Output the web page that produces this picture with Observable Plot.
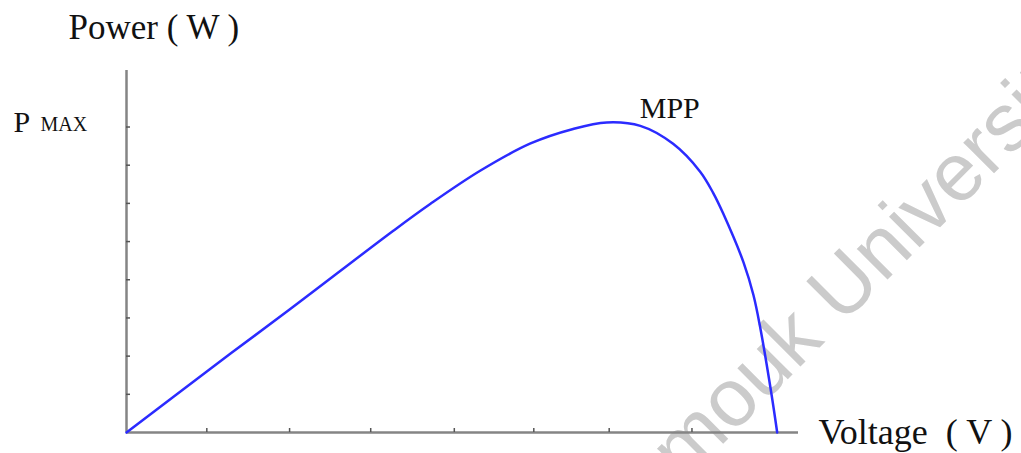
<!DOCTYPE html>
<html>
<head>
<meta charset="utf-8">
<script src="https://cdn.jsdelivr.net/npm/d3@7"></script>
<script src="https://cdn.jsdelivr.net/npm/@observablehq/plot@0.6"></script>
<style>
  html, body { margin: 0; padding: 0; background: #fff; overflow: hidden; }
</style>
</head>
<body>
<div id="chart"></div>
<script>
// Voltage in tick units, power in tick units
const voltage = [0, 0.98, 1.99, 3.26, 3.71, 4.32, 4.93, 5.45, 5.86, 6.27, 6.67, 7.0, 7.16, 7.28, 7.53, 7.65, 7.73, 7.87, 7.94];
const power   = [0, 1.60, 3.22, 5.29, 5.99, 6.86, 7.57, 7.95, 8.12, 8.03, 7.56, 6.83, 6.27, 5.74, 4.45, 3.60, 2.78, 1.01, 0];
const xTicks = [0.98, 1.99, 2.98, 4.0, 4.97, 5.89, 6.90];
const yTicks = [1, 2, 3, 4, 5, 6, 7, 8];

const yLabel = "Power ( W )";
const xLabel = "Voltage\u00a0\u00a0( V )";
const peakLabel = "MPP";
const pLabel = "P";
const pSub = "MAX";
const watermark = "Yarmouk University";

const data = voltage.map((v, i) => ({v, p: power[i]}));
const peak = data.reduce((a, b) => (b.p > a.p ? b : a));

const W = 1021, H = 453;
const mL = 126, mR = 223, mT = 70, mB = 21;
const innerW = W - mL - mR, innerH = H - mT - mB;
const tickLen = 4;
const serif = "Liberation Serif, Times New Roman, serif";
const sans = "Liberation Sans, Arial, sans-serif";
const axisColor = "#858585";
const ink = "#111";

const chart = Plot.plot({
  width: W,
  height: H,
  marginLeft: mL,
  marginRight: mR,
  marginTop: mT,
  marginBottom: mB,
  x: {domain: [0, 8.2], axis: null},
  y: {domain: [0, 9.48], axis: null},
  style: {background: "#fff", fontFamily: serif, overflow: "hidden"},
  marks: [
    Plot.text([watermark], {
      frameAnchor: "top-left", dx: 702, dy: 231, rotate: -45,
      fontSize: 82, fontFamily: sans,
      fill: "#cbcbcb", textAnchor: "middle", lineAnchor: "middle"
    }),
    Plot.ruleY([0], {stroke: axisColor, strokeWidth: 2.5}),
    Plot.ruleX([0], {stroke: axisColor, strokeWidth: 2.5}),
    Plot.tickX(xTicks, {x: d => d, insetTop: innerH - tickLen, stroke: "#555", strokeWidth: 1.5}),
    Plot.tickY(yTicks, {y: d => d, insetRight: innerW - tickLen, stroke: "#555", strokeWidth: 1.5}),
    Plot.line(data, {x: "v", y: "p", curve: "catmull-rom", stroke: "#2b2bff", strokeWidth: 2.5}),
    Plot.text([peakLabel], {
      x: () => peak.v, y: () => peak.p, textAnchor: "start", lineAnchor: "bottom",
      dx: 33, dy: -4, fontSize: 30, fontFamily: serif, fill: ink
    }),
    Plot.text([pLabel], {
      frameAnchor: "left", y: () => peak.p, textAnchor: "start", lineAnchor: "middle",
      dx: -113, dy: 0, fontSize: 30, fontFamily: serif, fill: ink
    }),
    Plot.text([pSub], {
      frameAnchor: "left", y: () => peak.p, textAnchor: "start", lineAnchor: "middle",
      dx: -86, dy: 2, fontSize: 20, fontFamily: serif, fill: ink
    }),
    Plot.text([yLabel], {
      frameAnchor: "top-left", textAnchor: "start", lineAnchor: "bottom",
      dx: -58, dy: -32, fontSize: 35, fontFamily: serif, fill: ink
    }),
    Plot.text([xLabel], {
      frameAnchor: "bottom-right", textAnchor: "start", lineAnchor: "bottom",
      dx: 20, dy: 11, fontSize: 36, fontFamily: serif, fill: ink
    })
  ]
});
document.getElementById("chart").appendChild(chart);
</script>
</body>
</html>
